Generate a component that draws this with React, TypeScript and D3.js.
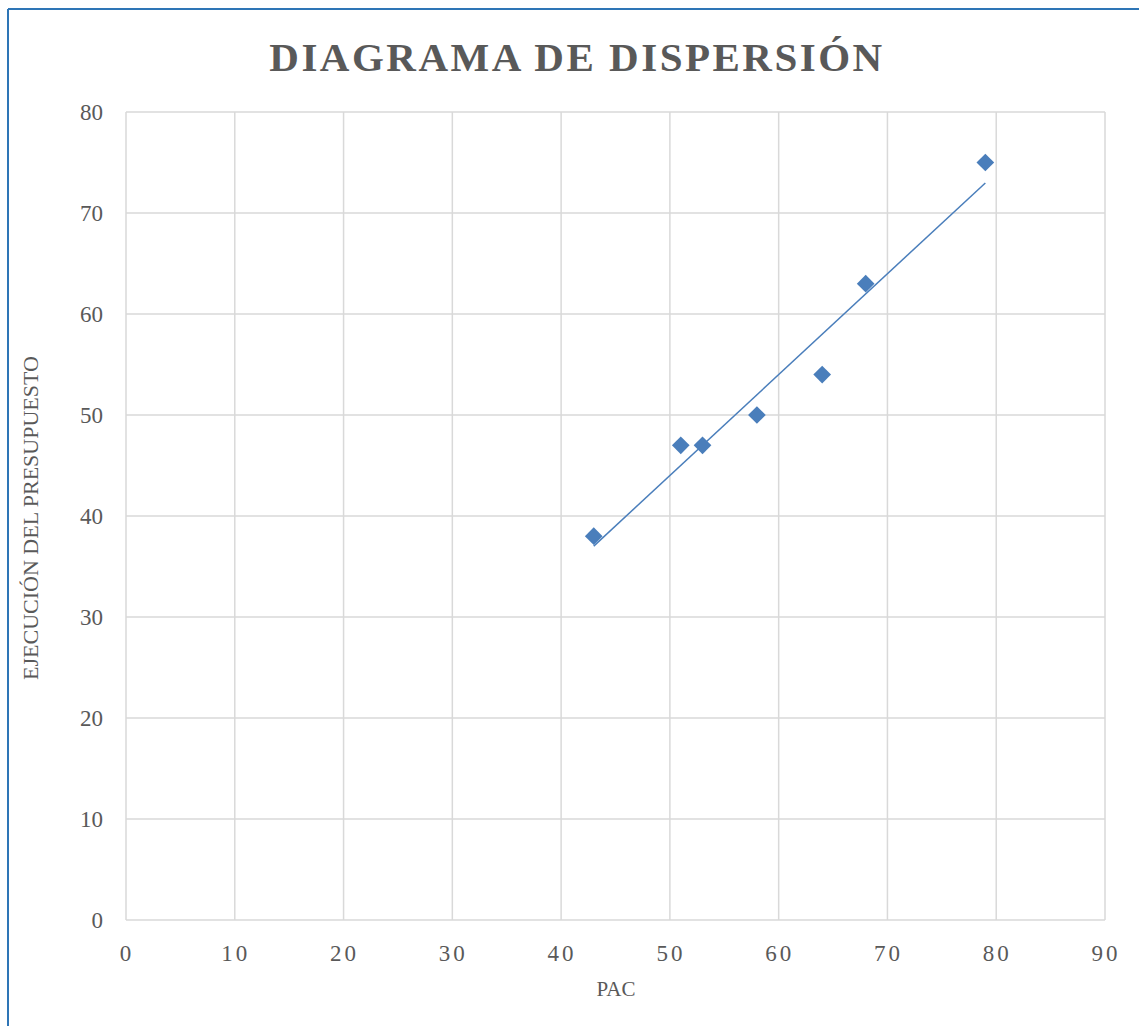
import React, { useEffect } from "react";
import * as d3 from "d3";

const pacValues = [43, 51, 53, 58, 64, 68, 79];
const ejecucionValues = [38, 47, 47, 50, 54, 63, 75];
const xTicks = [0, 10, 20, 30, 40, 50, 60, 70, 80, 90];
const yTicks = [0, 10, 20, 30, 40, 50, 60, 70, 80];
const titleText = "DIAGRAMA DE DISPERSIÓN";
const xTitle = "PAC";
const yTitle = "EJECUCIÓN DEL PRESUPUESTO";

const W = 1139;
const H = 1026;
const left = 126;
const right = 1105;
const top = 112;
const bottom = 920;
const font = "'Liberation Serif', 'DejaVu Serif', serif";
const textColor = "#595959";
const gridColor = "#d9d9d9";
const markColor = "#4a7ebb";

export default function App() {
  useEffect(() => {
    document.body.style.margin = "0";
  }, []);

  const x = d3.scaleLinear().domain([0, 90]).range([left, right]);
  const y = d3.scaleLinear().domain([0, 80]).range([bottom, top]);

  const n = pacValues.length;
  const mx = d3.mean(pacValues)!;
  const my = d3.mean(ejecucionValues)!;
  let sxy = 0;
  let sxx = 0;
  for (let i = 0; i < n; i++) {
    sxy += (pacValues[i] - mx) * (ejecucionValues[i] - my);
    sxx += (pacValues[i] - mx) ** 2;
  }
  const slope = sxy / sxx;
  const intercept = my - slope * mx;
  const xMin = d3.min(pacValues)!;
  const xMax = d3.max(pacValues)!;
  const trend = d3.line<number>()
    .x((d) => x(d))
    .y((d) => y(slope * d + intercept))([xMin, xMax]);

  const diamond = d3.symbol().type(d3.symbolDiamond2).size(200)()!;

  return (
    <svg width={W} height={H} style={{ display: "block", background: "#fff" }}>
      <line x1={8} y1={9} x2={8} y2={H} stroke="#2e75b6" strokeWidth={2} />
      <line x1={8} y1={9} x2={W} y2={9} stroke="#2e75b6" strokeWidth={2} />
      <text
        x={577}
        y={71}
        textAnchor="middle"
        fontFamily={font}
        fontWeight="bold"
        fontSize={41}
        letterSpacing={2.5}
        fill={textColor}
      >
        {titleText}
      </text>
      {xTicks.map((t) => (
        <line key={"gx" + t} x1={x(t)} x2={x(t)} y1={top} y2={bottom} stroke={gridColor} strokeWidth={1.5} />
      ))}
      {yTicks.map((t) => (
        <line key={"gy" + t} x1={left} x2={right} y1={y(t)} y2={y(t)} stroke={gridColor} strokeWidth={1.5} />
      ))}
      {yTicks.map((t) => (
        <text key={"ty" + t} x={103} y={y(t) + 8} textAnchor="end" fontFamily={font} fontSize={23} fill={textColor}>
          {t}
        </text>
      ))}
      {xTicks.map((t) => (
        <text key={"tx" + t} x={x(t) + 1} y={961} textAnchor="middle" fontFamily={font} fontSize={23} letterSpacing={3} fill={textColor}>
          {t}
        </text>
      ))}
      <text x={616} y={996} textAnchor="middle" fontFamily={font} fontSize={21} fill={textColor}>
        {xTitle}
      </text>
      <text
        transform={`translate(38,518) rotate(-90)`}
        textAnchor="middle"
        fontFamily={font}
        fontSize={22}
        fill={textColor}
      >
        {yTitle}
      </text>
      <path d={trend!} fill="none" stroke={markColor} strokeWidth={1.5} />
      {pacValues.map((v, i) => (
        <path key={"p" + i} d={diamond} transform={`translate(${x(v)},${y(ejecucionValues[i])})`} fill={markColor} />
      ))}
    </svg>
  );
}
